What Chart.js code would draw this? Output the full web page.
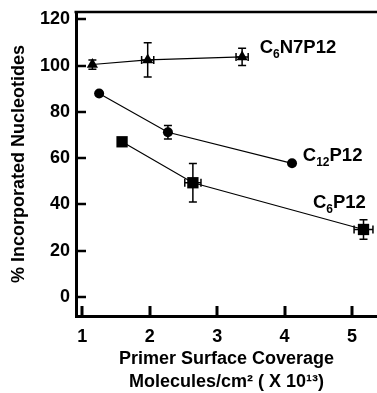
<!DOCTYPE html>
<html>
<head>
<meta charset="utf-8">
<script src="https://cdn.jsdelivr.net/npm/chart.js@4.4.1/dist/chart.umd.min.js"></script>
<style>
  html, body { margin: 0; padding: 0; background: #fff; }
  #wrap { width: 377px; height: 393px; position: relative; }
</style>
</head>
<body>
<div id="wrap"><canvas id="chart"></canvas></div>
<script>
// values (x in 1e13 molecules/cm2, y in %)
const c6n7X = [1.15, 1.97, 3.37];
const c6n7Y = [100.5, 102.5, 103.8];
const c6n7YErr = [2.0, 7.4, 3.7];
const c6n7XErr = [0, 0.09, 0.09];

const c12X = [1.25, 2.27, 4.11];
const c12Y = [88.0, 71.2, 57.8];
const c12YErr = [0, 2.9, 0];
const c12XErr = [0, 0, 0];

const c6X = [1.59, 2.64, 5.17];
const c6Y = [67.1, 49.4, 29.2];
const c6YErr = [0, 8.3, 4.2];
const c6XErr = [0, 0.12, 0.14];

const xTicks = [1, 2, 3, 4, 5];
const yTicks = [0, 20, 40, 60, 80, 100, 120];

// series names with subscripts: [text, isSub]
const seriesNames = [
    { parts: [['C', 0], ['6', 1], ['N7P12', 0]], x: 3.63, y: 105.4 },
    { parts: [['C', 0], ['12', 1], ['P12', 0]], x: 4.27, y: 58.7 },
    { parts: [['C', 0], ['6', 1], ['P12', 0]], x: 4.42, y: 38.4 },
];

const FONT = '"Liberation Sans", Arial, sans-serif';

const toPoints = (xs, ys) => xs.map((x, i) => ({ x, y: ys[i] }));

const errors = [
    { xErr: c6n7XErr, yErr: c6n7YErr },
    { xErr: c12XErr, yErr: c12YErr },
    { xErr: c6XErr, yErr: c6YErr },
];

const extras = {
    id: 'extras',
    beforeDatasetsDraw(chart) {
        const { ctx, scales: { x, y } } = chart;
        ctx.save();
        ctx.strokeStyle = '#000';
        ctx.lineWidth = 1.5;
        chart.data.datasets.forEach((ds, di) => {
            const err = errors[di];
            ds.data.forEach((p, i) => {
                const px = x.getPixelForValue(p.x);
                const py = y.getPixelForValue(p.y);
                const ye = err.yErr[i];
                const xe = err.xErr[i];
                if (ye) {
                    const t = y.getPixelForValue(p.y + ye);
                    const b = y.getPixelForValue(p.y - ye);
                    ctx.beginPath();
                    ctx.moveTo(px, t); ctx.lineTo(px, b);
                    ctx.moveTo(px - 4, t); ctx.lineTo(px + 4, t);
                    ctx.moveTo(px - 4, b); ctx.lineTo(px + 4, b);
                    ctx.stroke();
                }
                if (xe) {
                    const l = x.getPixelForValue(p.x - xe);
                    const r = x.getPixelForValue(p.x + xe);
                    ctx.beginPath();
                    ctx.moveTo(l, py); ctx.lineTo(r, py);
                    ctx.moveTo(l, py - 4); ctx.lineTo(l, py + 4);
                    ctx.moveTo(r, py - 4); ctx.lineTo(r, py + 4);
                    ctx.stroke();
                }
            });
        });
        ctx.restore();
    },
    afterDraw(chart) {
        const { ctx, chartArea: area, scales: { x, y } } = chart;
        ctx.save();
        ctx.strokeStyle = '#000';
        ctx.fillStyle = '#000';

        // top frame line
        ctx.lineWidth = 2.5;
        ctx.beginPath();
        ctx.moveTo(area.left - 1.5, area.top);
        ctx.lineTo(chart.width, area.top);
        ctx.stroke();

        // inward ticks
        ctx.lineWidth = 2.5;
        yTicks.forEach((v) => {
            const py = Math.round(y.getPixelForValue(v));
            ctx.beginPath();
            ctx.moveTo(area.left, py);
            ctx.lineTo(area.left + 10, py);
            ctx.stroke();
        });
        ctx.lineWidth = 3;
        xTicks.forEach((v) => {
            const px = Math.round(x.getPixelForValue(v));
            ctx.beginPath();
            ctx.moveTo(px, area.bottom);
            ctx.lineTo(px, area.bottom - 10);
            ctx.stroke();
        });

        // series names
        ctx.textBaseline = 'alphabetic';
        ctx.textAlign = 'left';
        seriesNames.forEach((s) => {
            let px = x.getPixelForValue(s.x);
            const py = y.getPixelForValue(s.y);
            s.parts.forEach(([txt, sub]) => {
                ctx.font = sub ? `bold 12px ${FONT}` : `bold 18.5px ${FONT}`;
                ctx.fillText(txt, px, sub ? py + 5 : py);
                px += ctx.measureText(txt).width;
            });
        });
        ctx.restore();
    },
};

const lineStyle = {
    showLine: true,
    borderColor: '#000',
    borderWidth: 1.2,
    pointBackgroundColor: '#000',
    pointBorderColor: '#000',
    pointBorderWidth: 0,
};

new Chart(document.getElementById('chart'), {
    type: 'scatter',
    data: {
        datasets: [
            { ...lineStyle, label: 'C6N7P12', data: toPoints(c6n7X, c6n7Y), pointStyle: 'triangle', pointRadius: 6.5 },
            { ...lineStyle, label: 'C12P12', data: toPoints(c12X, c12Y), pointStyle: 'circle', pointRadius: 5 },
            { ...lineStyle, label: 'C6P12', data: toPoints(c6X, c6Y), pointStyle: 'rect', pointRadius: 8 },
        ],
    },
    options: {
        responsive: true,
        maintainAspectRatio: false,
        animation: false,
        layout: { autoPadding: false, padding: { top: 12, right: 0, left: 0, bottom: 0 } },
        plugins: {
            legend: { display: false },
            tooltip: { enabled: false },
        },
        scales: {
            x: {
                type: 'linear',
                min: 0.907,
                max: 5.37,
                afterFit: (s) => { s.height = 77; s.paddingLeft = 0; s.paddingRight = 0; },
                afterBuildTicks: (s) => { s.ticks = xTicks.map((v) => ({ value: v })); },
                grid: { display: false, drawTicks: false },
                border: { display: true, width: 3, color: '#000' },
                ticks: {
                    padding: 10,
                    color: '#000',
                    font: { family: FONT, size: 18, weight: 'bold' },
                },
                title: {
                    display: true,
                    text: ['Primer Surface Coverage', 'Molecules/cm\u00B2 ( X 10\u00B9\u00B3)'],
                    color: '#000',
                    font: { family: FONT, size: 18, weight: 'bold', lineHeight: 1.3 },
                    padding: { top: 0, bottom: -1 },
                },
            },
            y: {
                type: 'linear',
                min: -8.2,
                max: 123.2,
                afterFit: (s) => { s.width = 76; s.paddingTop = 0; s.paddingBottom = 0; },
                afterBuildTicks: (s) => { s.ticks = yTicks.map((v) => ({ value: v })); },
                grid: { display: false, drawTicks: false },
                border: { display: true, width: 3, color: '#000' },
                ticks: {
                    padding: 6,
                    color: '#000',
                    font: { family: FONT, size: 18, weight: 'bold' },
                },
                title: {
                    display: true,
                    text: '% Incorporated Nucleotides',
                    color: '#000',
                    font: { family: FONT, size: 18, weight: 'bold', lineHeight: 1.2 },
                    padding: { top: 8, bottom: 0 },
                },
            },
        },
    },
    plugins: [extras],
});
</script>
</body>
</html>
